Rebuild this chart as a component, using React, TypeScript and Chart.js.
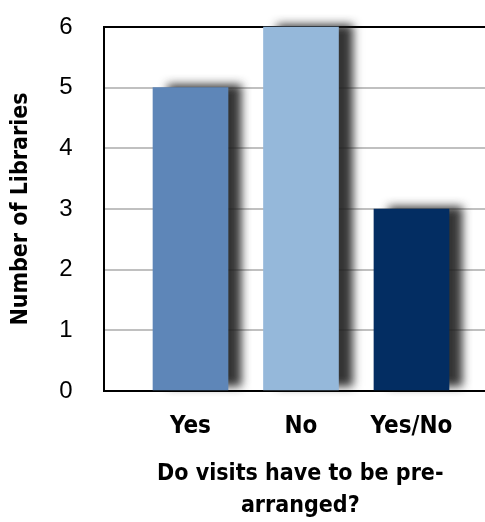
import React, { useEffect, useRef } from "react";
import { Chart, registerables } from "chart.js";

Chart.register(...registerables);

const categories = ["Yes", "No", "Yes/No"];
const libraryCounts = [5, 6, 3];
const barColors = ["#5E86B8", "#95B8DA", "#032D62"];
const yMin = 0;
const yMax = 6;
const yStep = 1;
const xTitleLines = ["Do visits have to be pre-", "arranged?"];
const yTitle = "Number of Libraries";

const condensed = "'DejaVu Sans Condensed', 'Liberation Sans Narrow', sans-serif";

const shadowPlugin = {
  id: "barShadow",
  beforeDatasetsDraw(chart: any) {
    const ctx = chart.ctx;
    ctx.save();
    ctx.shadowColor = "rgba(30,30,30,0.9)";
    ctx.shadowOffsetX = 14;
    ctx.shadowOffsetY = -3;
    ctx.shadowBlur = 9;
  },
  afterDatasetsDraw(chart: any) {
    chart.ctx.restore();
  },
};

export default function App() {
  const ref = useRef<HTMLCanvasElement | null>(null);
  useEffect(() => {
    if (!ref.current) return;
    const chart = new Chart(ref.current, {
      type: "bar",
      data: {
        datasets: [
          {
            data: libraryCounts.map((v, i) => ({ x: i, y: v })),
            backgroundColor: barColors,
            borderWidth: 0,
            barThickness: 75,
            clip: false as any,
          },
        ],
      },
      plugins: [shadowPlugin],
      options: {
        animation: false,
        responsive: false,
        layout: { padding: { top: 27, left: 0, right: 0, bottom: 0 } },
        plugins: { legend: { display: false }, tooltip: { enabled: false } },
        scales: {
          x: {
            type: "linear",
            min: -0.787,
            max: 2.774,
            offset: false,
            bounds: "data",
            afterBuildTicks: (axis: any) => {
              axis.ticks = categories.map((_, i) => ({ value: i }));
            },
            ticks: {
              autoSkip: false,
              maxRotation: 0,
              padding: 2,
              color: "#000",
              font: { family: condensed, size: 24, weight: "bold", lineHeight: 1.2 },
              callback: (v: any) => categories[v as number] ?? "",
            },
            grid: { display: false, drawTicks: true, tickLength: 19, offset: false },
            border: { display: true, color: "#000", width: 2 },
            title: {
              display: true,
              text: xTitleLines,
              color: "#000",
              font: { family: condensed, size: 23, weight: "bold", lineHeight: 1.4 },
              padding: { top: 14.8, bottom: 0 },
            },
          },
          y: {
            min: yMin,
            max: yMax,
            ticks: {
              stepSize: yStep,
              padding: 4,
              color: "#000",
              font: { family: "'Liberation Sans', Arial, sans-serif", size: 24 },
            },
            grid: {
              drawTicks: true,
              tickLength: 27,
              tickColor: "rgba(0,0,0,0)",
              lineWidth: 2,
              color: (c: any) => (c.tick && c.tick.value === yMax ? "#000" : "#C0C0C0"),
            },
            border: { display: true, color: "#000", width: 2 },
            title: {
              display: true,
              text: yTitle,
              color: "#000",
              font: { family: condensed, size: 23, weight: "bold", lineHeight: 1.2 },
              padding: { top: 7.2, bottom: 20.4 },
            },
          },
        },
      },
    });
    return () => chart.destroy();
  }, []);
  return (
    <div style={{ position: "fixed", left: 0, top: 0, width: 485, height: 522, overflow: "hidden", background: "#fff" }}>
      <canvas ref={ref} width={497} height={522} style={{ display: "block" }} />
    </div>
  );
}
